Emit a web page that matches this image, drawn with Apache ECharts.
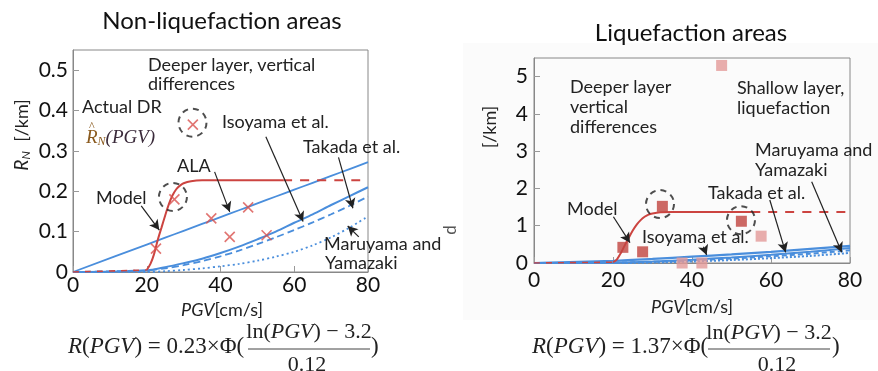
<!DOCTYPE html>
<html>
<head>
<meta charset="utf-8">
<script src="https://cdn.jsdelivr.net/npm/echarts@6/dist/echarts.min.js"></script>
<style>
  html, body { margin: 0; padding: 0; background: #fff; }
  #chart { width: 878px; height: 371px; }
</style>
</head>
<body>
<div id="chart"></div>
<script>
// x ticks (both panels)
var pgvTicks = [0, 20, 40, 60, 80];

// ---- non-liquefaction areas (left) ----
var nlCurvePgv = [0, 20, 25, 30, 35, 40, 45, 50, 55, 60, 65, 70, 75, 80];
var nlAla = [0, 0.068, 0.085, 0.102, 0.119, 0.136, 0.153, 0.17, 0.187, 0.204, 0.221, 0.238, 0.255, 0.272];
var nlIsoyama = [0, 0.004, 0.012, 0.022, 0.033, 0.047, 0.063, 0.081, 0.1, 0.122, 0.143, 0.166, 0.188, 0.21];
var nlTakada = [0, 0.004, 0.009, 0.017, 0.027, 0.039, 0.053, 0.069, 0.086, 0.104, 0.123, 0.143, 0.164, 0.187];
var nlMaruyama = [0, 0, 0.002, 0.005, 0.009, 0.014, 0.02, 0.028, 0.038, 0.05, 0.066, 0.086, 0.11, 0.138];
var nlModelPgv = [20, 21, 22, 23, 24, 25, 26, 27, 28, 29, 30, 32, 35, 57];
var nlModel = [0.005, 0.02, 0.045, 0.08, 0.11, 0.14, 0.168, 0.19, 0.205, 0.214, 0.22, 0.225, 0.227, 0.227];
var nlModelLow = [[0, 0], [20, 0.005]];
var nlModelHigh = [[57, 0.227], [80, 0.227]];
var nlObsPgv = [22.5, 27.5, 32.5, 37.5, 42.5, 47.5, 52.5];
var nlObs = [0.058, 0.18, 0.365, 0.133, 0.087, 0.16, 0.091];
var nlCircles = [[27.1, 0.186], [32.4, 0.37]];
var nlArrows = [
  [[18.5, 0.164], [23.4, 0.104]],
  [[38.4, 0.248], [42.5, 0.149]],
  [[52.3, 0.335], [62.4, 0.125]],
  [[72.0, 0.284], [75.9, 0.158]],
  [[77.5, 0.087], [74.5, 0.114]]
];

// ---- liquefaction areas (right) ----
var lqCurvePgv = [0, 20, 30, 40, 50, 60, 70, 80];
var lqAla = [0, 0.06, 0.11, 0.17, 0.23, 0.3, 0.38, 0.46];
var lqIsoyama = [0, 0.01, 0.04, 0.09, 0.15, 0.22, 0.3, 0.4];
var lqTakada = [0, 0.01, 0.03, 0.07, 0.12, 0.18, 0.25, 0.34];
var lqMaruyama = [0, 0, 0.01, 0.04, 0.08, 0.13, 0.19, 0.27];
var lqModelPgv = [20, 21, 22, 23, 24, 25, 26, 27, 28, 29, 30, 32, 35, 55];
var lqModel = [0.02, 0.1, 0.27, 0.48, 0.68, 0.87, 1.03, 1.15, 1.24, 1.3, 1.33, 1.36, 1.37, 1.37];
var lqModelLow = [[0, 0], [20, 0.02]];
var lqModelHigh = [[55, 1.37], [80, 1.37]];
var lqDeepPgv = [22.5, 27.5, 32.5, 52.5];
var lqDeep = [0.42, 0.3, 1.52, 1.12];
var lqShallowPgv = [37.5, 42.5, 47.5, 57.5];
var lqShallow = [0, 0, 5.3, 0.72];
var lqCircles = [[31.9, 1.58], [52.4, 1.15]];
var lqArrows = [
  [[20.1, 1.24], [24.3, 0.545]],
  [[42.9, 0.437], [43.7, 0.215]],
  [[59.7, 1.69], [63.7, 0.287]],
  [[70.3, 2.18], [77.9, 0.287]]
];

var RED = "#cc4440";
var BLUE = "#4a8edc";
var SANS = "Lato";
var SERIF = "Liberation Serif";

function pairs(xs, ys) {
  return xs.map(function (x, i) { return [x, ys[i]]; });
}

function curve(name, idx, data, color, type, width) {
  return {
    name: name,
    type: "line",
    xAxisIndex: idx,
    yAxisIndex: idx,
    data: data,
    smooth: 0.3,
    symbol: "none",
    z: 3,
    lineStyle: { color: color, type: type, width: width }
  };
}

function arrows(idx, circles, list) {
  return {
    type: "scatter",
    xAxisIndex: idx,
    yAxisIndex: idx,
    data: circles,
    symbol: "circle",
    symbolSize: 28,
    silent: true,
    z: 6,
    itemStyle: { color: "transparent", borderColor: "#222", borderWidth: 2, borderType: [6, 5] },
    markLine: {
      silent: true,
      symbol: ["none", "arrow"],
      symbolSize: [8, 10],
      label: { show: false },
      lineStyle: { color: "#222", width: 1.2, type: "solid" },
      data: list.map(function (a) { return [{ coord: a[0] }, { coord: a[1] }]; })
    }
  };
}

function txt(x, y, s, size, extra, rot) {
  var el = {
    type: "text",
    x: x,
    y: y,
    z: 10,
    style: {
      text: s,
      font: (size || 18) + "px " + SANS,
      fill: "#222",
      textVerticalAlign: "middle"
    }
  };
  if (rot) el.rotation = rot;
  if (extra) {
    for (var k in extra) el.style[k] = extra[k];
  }
  return el;
}

var xAxisBase = {
  type: "value",
  min: 0,
  max: 80,
  interval: 20,
  axisLine: { lineStyle: { color: "#888" } },
  axisTick: { inside: true, length: 6, lineStyle: { color: "#999" } },
  splitLine: { show: false },
  axisLabel: { color: "#111", fontSize: 21, fontFamily: SANS, margin: 3 },
  data: pgvTicks
};

var myChart = echarts.init(document.getElementById("chart"));
var option = {
  animation: false,
  backgroundColor: "#fff",
  title: [
    { text: "Non-liquefaction areas", left: 217, top: 4, textAlign: "center",
      textStyle: { fontFamily: SANS, fontSize: 24, fontWeight: "normal", color: "#111" } },
    { text: "Liquefaction areas", left: 686, top: 16, textAlign: "center",
      textStyle: { fontFamily: SANS, fontSize: 24, fontWeight: "normal", color: "#111" } }
  ],
  grid: [
    { left: 73, top: 50, width: 295, height: 222, show: true, borderColor: "#888", borderWidth: 1 },
    { left: 534, top: 58, width: 316, height: 205, show: true, borderColor: "#888", borderWidth: 1 }
  ],
  xAxis: [
    Object.assign({}, xAxisBase, { gridIndex: 0 }),
    Object.assign({}, xAxisBase, { gridIndex: 1, axisLabel: Object.assign({}, xAxisBase.axisLabel, { margin: 7 }) })
  ],
  yAxis: [
    {
      type: "value", gridIndex: 0, min: 0, max: 0.55, interval: 0.1,
      axisLine: { lineStyle: { color: "#888" } },
      axisTick: { inside: true, length: 6, lineStyle: { color: "#999" } },
      splitLine: { show: false },
      axisLabel: { color: "#111", fontSize: 21, fontFamily: SANS, margin: 5, showMaxLabel: false }
    },
    {
      type: "value", gridIndex: 1, min: 0, max: 5.5, interval: 1,
      axisLine: { lineStyle: { color: "#888" } },
      axisTick: { inside: true, length: 6, lineStyle: { color: "#999" } },
      splitLine: { show: false },
      axisLabel: { color: "#111", fontSize: 21, fontFamily: SANS, margin: 6, showMaxLabel: false }
    }
  ],
  series: [
    // left
    curve("ALA", 0, pairs(nlCurvePgv, nlAla), BLUE, "solid", 1.8),
    curve("Isoyama et al.", 0, pairs(nlCurvePgv, nlIsoyama), BLUE, "solid", 2),
    curve("Takada et al.", 0, pairs(nlCurvePgv, nlTakada), BLUE, [7, 4], 1.8),
    curve("Maruyama and Yamazaki", 0, pairs(nlCurvePgv, nlMaruyama), BLUE, [2, 3], 1.8),
    curve("Model", 0, nlModelLow, RED, [6, 6], 1.6),
    curve("Model", 0, pairs(nlModelPgv, nlModel), RED, "solid", 2),
    curve("Model", 0, nlModelHigh, RED, [9, 8], 2),
    {
      name: "Actual DR", type: "scatter", xAxisIndex: 0, yAxisIndex: 0, z: 5,
      data: pairs(nlObsPgv, nlObs),
      symbol: "path://M0,0L10,10M0,10L10,0",
      symbolSize: 10,
      itemStyle: { color: "transparent", borderColor: "#d9534f", borderWidth: 1.6 }
    },
    arrows(0, nlCircles, nlArrows),
    // right
    curve("ALA", 1, pairs(lqCurvePgv, lqAla), BLUE, "solid", 2.2),
    curve("Isoyama et al.", 1, pairs(lqCurvePgv, lqIsoyama), BLUE, "solid", 2),
    curve("Takada et al.", 1, pairs(lqCurvePgv, lqTakada), BLUE, [5, 3], 2),
    curve("Maruyama and Yamazaki", 1, pairs(lqCurvePgv, lqMaruyama), BLUE, [2, 2], 2),
    curve("Model", 1, lqModelLow, RED, [6, 6], 1.6),
    curve("Model", 1, pairs(lqModelPgv, lqModel), RED, "solid", 2),
    curve("Model", 1, lqModelHigh, RED, [9, 8], 2),
    {
      name: "Deeper layer", type: "scatter", xAxisIndex: 1, yAxisIndex: 1, z: 5,
      data: pairs(lqDeepPgv, lqDeep),
      symbol: "rect", symbolSize: 11,
      itemStyle: { color: "#c0433e" }
    },
    {
      name: "Shallow layer", type: "scatter", xAxisIndex: 1, yAxisIndex: 1, z: 5,
      data: pairs(lqShallowPgv, lqShallow),
      symbol: "rect", symbolSize: 11,
      itemStyle: { color: "#e39a98" }
    },
    arrows(1, lqCircles, lqArrows)
  ],
  graphic: [
    { type: "rect", z: -10, shape: { x: 463, y: 43, width: 415, height: 277 }, style: { fill: "#fbfbfb" } },
    // axis names (rotated)
    txt(22, 135, "{r|R}{n|N}  [/km]", 18, {
      textAlign: "center",
      rich: {
        r: { fontFamily: SANS, fontStyle: "italic", fontSize: 19, fill: "#222" },
        n: { fontFamily: SANS, fontStyle: "italic", fontSize: 12, fill: "#222", padding: [8, 0, 0, 0] }
      }
    }, Math.PI / 2),
    txt(490, 127, "[/km]", 18, { textAlign: "center" }, Math.PI / 2),
    txt(222, 310, "{i|PGV}[cm/s]", 18, {
      textAlign: "center",
      rich: { i: { fontFamily: SANS, fontStyle: "italic", fontSize: 18, fill: "#222" } }
    }),
    txt(692, 307, "{i|PGV}[cm/s]", 18, {
      textAlign: "center",
      rich: { i: { fontFamily: SANS, fontStyle: "italic", fontSize: 18, fill: "#222" } }
    }),
    txt(451, 230, "d", 17, { fill: "#555", textAlign: "center" }, Math.PI / 2),
    // left annotations
    txt(148, 65, "Deeper layer, vertical"),
    txt(148, 84, "differences"),
    txt(82, 107, "Actual DR"),
    txt(86, 138, "{r|R}{n|N}{p|(PGV)}", 19, {
      rich: {
        r: { fontFamily: SERIF, fontStyle: "italic", fontSize: 19, fill: "#8a5a1e" },
        n: { fontFamily: SERIF, fontStyle: "italic", fontSize: 12, fill: "#8a5a1e", padding: [8, 0, 0, 0] },
        p: { fontFamily: SERIF, fontStyle: "italic", fontSize: 19, fill: "#3a2a3a" }
      }
    }),
    txt(89, 127, "^", 12, { fill: "#8a5a1e", font: "12px " + SERIF }),
    txt(222, 122, "Isoyama et al."),
    txt(303, 147, "Takada et al."),
    txt(177, 166, "ALA"),
    txt(96, 198, "Model"),
    txt(324, 244, "Maruyama and"),
    txt(325, 263, "Yamazaki"),
    // right annotations
    txt(570, 87, "Deeper layer"),
    txt(570, 107, "vertical"),
    txt(570, 127, "differences"),
    txt(737, 88, "Shallow layer,"),
    txt(737, 108, "liquefaction"),
    txt(755, 150, "Maruyama and"),
    txt(755, 170, "Yamazaki"),
    txt(708, 193, "Takada et al."),
    txt(567, 209, "Model"),
    txt(642, 237, "Isoyama et al."),
    // formulas
    txt(68, 347, "{i|R}({i|PGV}) = 0.23×Φ(", 23, {
      font: "23px " + SERIF,
      rich: { i: { fontFamily: SERIF, fontStyle: "italic", fontSize: 23, fill: "#222" } }
    }),
    txt(309, 332, "ln({i|PGV}) − 3.2", 22, {
      font: "22px " + SERIF, textAlign: "center",
      rich: { i: { fontFamily: SERIF, fontStyle: "italic", fontSize: 22, fill: "#222" } }
    }),
    { type: "line", z: 10, shape: { x1: 248, y1: 349, x2: 370, y2: 349 }, style: { stroke: "#444", lineWidth: 1 } },
    txt(307, 365, "0.12", 22, { font: "22px " + SERIF, textAlign: "center" }),
    txt(371, 347, ")", 23, { font: "23px " + SERIF }),
    txt(532, 347, "{i|R}({i|PGV}) = 1.37×Φ(", 23, {
      font: "23px " + SERIF,
      rich: { i: { fontFamily: SERIF, fontStyle: "italic", fontSize: 23, fill: "#222" } }
    }),
    txt(769, 333, "ln({i|PGV}) − 3.2", 22, {
      font: "22px " + SERIF, textAlign: "center",
      rich: { i: { fontFamily: SERIF, fontStyle: "italic", fontSize: 22, fill: "#222" } }
    }),
    { type: "line", z: 10, shape: { x1: 708, y1: 349, x2: 830, y2: 349 }, style: { stroke: "#444", lineWidth: 1 } },
    txt(777, 365, "0.12", 22, { font: "22px " + SERIF, textAlign: "center" }),
    txt(832, 347, ")", 23, { font: "23px " + SERIF })
  ]
};

myChart.setOption(option);
window.addEventListener("resize", function () {
  myChart.resize();
});
</script>
</body>
</html>
